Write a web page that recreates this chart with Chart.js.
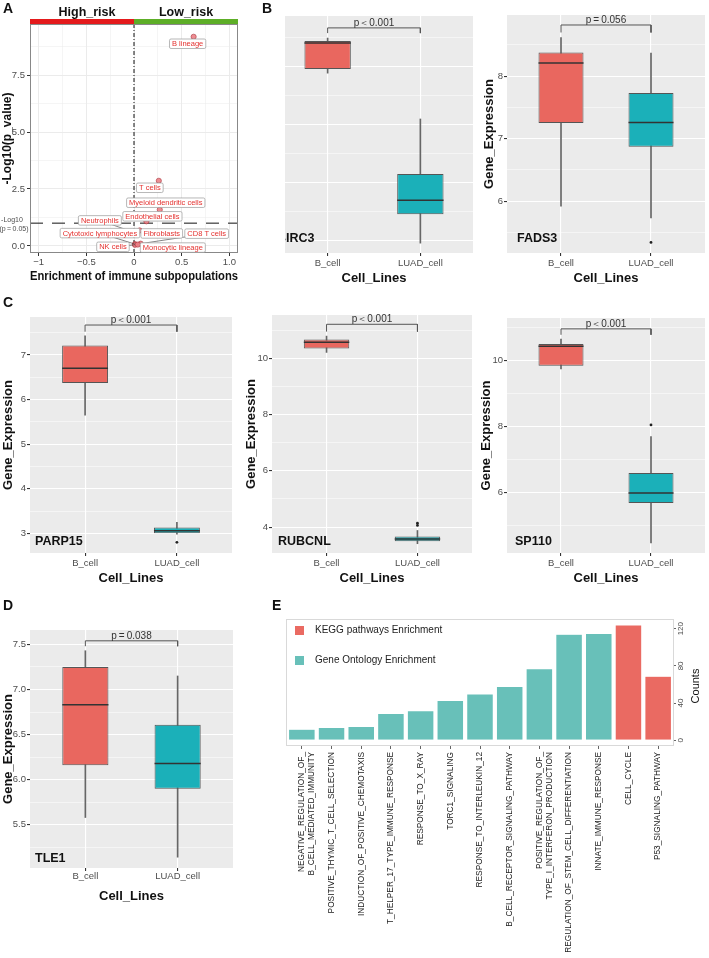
<!DOCTYPE html>
<html>
<head>
<meta charset="utf-8">
<script src="https://cdn.jsdelivr.net/npm/chart.js@4.4.0/dist/chart.umd.min.js"></script>
<style>
  body { margin: 0; background: #fff; width: 709px; height: 958px; position: relative; overflow: hidden; }
  canvas { position: absolute; }
  .tag { position: absolute; font: bold 14px "Liberation Sans", Arial, sans-serif; color: #111; line-height: 14px; z-index: 5; }
</style>
</head>
<body>
<canvas id="cBIRC3" width="236" height="290" style="left:240px;top:0px"></canvas>
<canvas id="cA" width="285" height="290" style="left:0px;top:0px"></canvas>
<canvas id="cFADS3" width="236" height="290" style="left:473px;top:0px"></canvas>
<canvas id="cPARP15" width="236" height="300" style="left:0px;top:290px"></canvas>
<canvas id="cRUBCNL" width="240" height="300" style="left:236px;top:290px"></canvas>
<canvas id="cSP110" width="236" height="300" style="left:473px;top:290px"></canvas>
<canvas id="cTLE1" width="240" height="318" style="left:0px;top:590px"></canvas>
<canvas id="cE" width="469" height="368" style="left:240px;top:590px"></canvas>
<div class="tag" style="left:3px;top:1px">A</div>
<div class="tag" style="left:262px;top:1px">B</div>
<div class="tag" style="left:3px;top:295px">C</div>
<div class="tag" style="left:3px;top:598px">D</div>
<div class="tag" style="left:272px;top:598px">E</div>
<script>
const FONT = '"Liberation Sans", Arial, sans-serif';
Chart.defaults.font.family = FONT;
Chart.defaults.color = '#4D4D4D';
Chart.defaults.animation = false;
Chart.defaults.responsive = false;
Chart.defaults.plugins.legend.display = false;
Chart.defaults.plugins.tooltip.enabled = false;

// === Panel A data ===
const cellTypes = ['B lineage', 'T cells', 'Myeloid dendritic cells', 'Endothelial cells', 'Neutrophils',
  'Cytotoxic lymphocytes', 'Fibroblasts', 'CD8 T cells', 'NK cells', 'Monocytic lineage'];
const enrichment = [0.625, 0.26, 0.27, 0.13, 0.03, 0.01, 0.06, 0.07, 0.01, 0.04];
const negLogP = [9.18, 2.86, 1.59, 1.08, 0.55, 0.08, 0.68, 0.10, 0.05, 0.06];
const pCutoff = 1.0;
const riskGroups = ['High_risk', 'Low_risk'];
const enrichTicks = [-1, -0.5, 0, 0.5, 1];
const enrichTickLabels = ['\u22121', '\u22120.5', '0', '0.5', '1.0'];
const enrichRange = [-1.09, 1.09];
const logPRange = [-0.31, 9.74];

// === Box plot data: [lower whisker, Q1, median, Q3, upper whisker] ===
const cellLines = ['B_cell', 'LUAD_cell'];
const birc3 = [[9.78, 9.92, 10.82, 10.89, 10.99], [3.92, 4.92, 5.40, 6.30, 8.20]];
const fads3 = [[5.92, 7.25, 8.21, 8.38, 8.62], [5.73, 6.87, 7.26, 7.73, 8.37]];
const parp15 = [[5.65, 6.37, 6.70, 7.21, 7.43], [2.98, 3.00, 3.06, 3.13, 3.25]];
const rubcnl = [[10.21, 10.35, 10.57, 10.67, 10.79], [3.41, 3.50, 3.58, 3.67, 3.88]];
const sp110 = [[9.75, 9.85, 10.44, 10.51, 10.66], [4.47, 5.68, 5.98, 6.59, 7.70]];
const tle1 = [[5.58, 6.16, 6.83, 7.25, 7.43], [5.14, 5.90, 6.18, 6.61, 7.15]];
const fads3Outliers = [[], [5.34]];
const parp15Outliers = [[], [2.80]];
const rubcnlOutliers = [[], [4.06, 4.14]];
const sp110Outliers = [[], [8.05]];
const pValues = { BIRC3: 'p\uFF1C0.001', FADS3: 'p\u2009=\u20090.056', PARP15: 'p\uFF1C0.001',
  RUBCNL: 'p\uFF1C0.001', SP110: 'p\uFF1C0.001', TLE1: 'p\u2009=\u20090.038' };

// === Panel E data ===
const pathwayLabels = [['NEGATIVE_REGULATION_OF_', 'B_CELL_MEDIATED_IMMUNITY'], 'POSITIVE_THYMIC_T_CELL_SELECTION',
  'INDUCTION_OF_POSITIVE_CHEMOTAXIS', 'T_HELPER_17_TYPE_IMMUNE_RESPONSE', 'RESPONSE_TO_X_RAY', 'TORC1_SIGNALING',
  'RESPONSE_TO_INTERLEUKIN_12', 'B_CELL_RECEPTOR_SIGNALING_PATHWAY', ['POSITIVE_REGULATION_OF_', 'TYPE_I_INTERFERON_PRODUCTION'],
  'REGULATION_OF_STEM_CELL_DIFFERENTIATION', 'INNATE_IMMUNE_RESPONSE', 'CELL_CYCLE', 'P53_SIGNALING_PATHWAY'];
const pathwayCounts = [12, 14, 15, 29, 32, 43, 50, 58, 77, 114, 115, 124, 69];
const pathwaySource = ['GO', 'GO', 'GO', 'GO', 'GO', 'GO', 'GO', 'GO', 'GO', 'GO', 'GO', 'KEGG', 'KEGG'];
const countTicks = [0, 40, 80, 120];

const RED = '#E9675F', TEAL = '#1BB0B9';

// === Panel A: volcano-like scatter ===
const labelShift = [[-6, 7], [-9, 7], [6, -7], [6, -5], [-37, -13], [-35, -11], [22, 3], [66, -10], [-22, 2], [35, 3]];
const near = (v, step) => Math.abs(v / step - Math.round(v / step)) < 1e-6;

const volcanoDecor = {
  id: 'volcanoDecor',
  beforeDraw(chart) {
    const { ctx } = chart;
    ctx.save();
    ctx.fillStyle = '#fff';
    ctx.fillRect(0, 0, chart.width, chart.height);
    ctx.restore();
  },
  afterDatasetsDraw(chart) {
    const { ctx, chartArea: a, scales: { x, y } } = chart;
    const x0 = x.getPixelForValue(0);
    ctx.save();
    ctx.strokeStyle = '#888';
    ctx.lineWidth = 1;
    ctx.strokeRect(a.left + 0.5, a.top + 0.5, a.right - a.left - 1, a.bottom - a.top - 1);
    ctx.fillStyle = '#E41A1C';
    ctx.fillRect(a.left, a.top - 5, x0 - a.left, 5);
    ctx.fillStyle = '#5DAE27';
    ctx.fillRect(x0, a.top - 5, a.right - x0, 5);
    ctx.fillStyle = '#111';
    ctx.font = 'bold 12.5px ' + FONT;
    ctx.textAlign = 'center';
    ctx.textBaseline = 'middle';
    ctx.fillText(riskGroups[0], (a.left + x0) / 2 + 5, a.top - 11);
    ctx.fillText(riskGroups[1], (x0 + a.right) / 2, a.top - 11);

    // cutoff tick label
    const yc = y.getPixelForValue(pCutoff);
    ctx.font = '7px ' + FONT;
    ctx.fillStyle = '#4D4D4D';
    ctx.fillText('-Log10', a.left - 18, yc - 3);
    ctx.fillText('(p\u2009=\u20090.05)', a.left - 16, yc + 5.5);

    // labels with leader lines
    ctx.font = '7.5px ' + FONT;
    const boxes = cellTypes.map((name, i) => {
      const px = x.getPixelForValue(enrichment[i]), py = y.getPixelForValue(negLogP[i]);
      const w = ctx.measureText(name).width + 5, h = 9.5;
      return { name, px, py, cx: px + labelShift[i][0], cy: py + labelShift[i][1], w, h };
    });
    ctx.strokeStyle = '#333';
    ctx.lineWidth = 0.6;
    boxes.forEach(b => {
      if (Math.abs(b.px - b.cx) > b.w / 2 + 3 || Math.abs(b.py - b.cy) > b.h / 2 + 3) {
        ctx.beginPath();
        ctx.moveTo(b.cx, b.cy);
        ctx.lineTo(b.px, b.py);
        ctx.stroke();
      }
    });
    boxes.forEach(b => {
      ctx.beginPath();
      ctx.roundRect(b.cx - b.w / 2, b.cy - b.h / 2, b.w, b.h, 1.5);
      ctx.fillStyle = '#fff';
      ctx.fill();
      ctx.strokeStyle = '#9A9A9A';
      ctx.lineWidth = 0.7;
      ctx.stroke();
      ctx.fillStyle = '#E4312F';
      ctx.fillText(b.name, b.cx, b.cy + 0.5);
    });
    ctx.restore();
  }
};

new Chart(document.getElementById('cA'), {
  type: 'scatter',
  data: {
    datasets: [
      {
        data: cellTypes.map((c, i) => ({ x: enrichment[i], y: negLogP[i] })),
        pointRadius: 2.6,
        pointBackgroundColor: 'rgba(236,128,134,0.9)',
        pointBorderColor: '#A8323A',
        pointBorderWidth: 0.6,
        order: 0
      },
      {
        type: 'line',
        data: [{ x: 0, y: logPRange[0] }, { x: 0, y: logPRange[1] }],
        borderColor: '#111', borderWidth: 1, borderDash: [4, 2, 1, 2], pointRadius: 0, order: 1
      },
      {
        type: 'line',
        data: [{ x: enrichRange[0], y: pCutoff }, { x: enrichRange[1], y: pCutoff }],
        borderColor: '#111', borderWidth: 1, borderDash: [13, 9], pointRadius: 0, order: 1
      }
    ]
  },
  options: {
    layout: { padding: { top: 24, right: 47, bottom: 2, left: 0 } },
    scales: {
      x: {
        type: 'linear', min: enrichRange[0], max: enrichRange[1],
        afterFit: s => { s.height = 35; },
        border: { display: false },
        grid: {
          color: '#EBEBEB',
          lineWidth: c => (c.tick && near(c.tick.value, 0.5)) ? 1 : 0.5,
          tickLength: 3,
          tickColor: c => (c.tick && near(c.tick.value, 0.5)) ? '#333' : 'rgba(0,0,0,0)'
        },
        ticks: {
          stepSize: 0.25, includeBounds: false, autoSkip: false, maxRotation: 0, padding: 1,
          font: { size: 9.5 }, color: '#4D4D4D',
          callback: v => {
            const k = enrichTicks.findIndex(t => Math.abs(t - v) < 1e-6);
            return k >= 0 ? enrichTickLabels[k] : '';
          }
        },
        title: { display: true, text: 'Enrichment of immune subpopulations', color: '#111',
          font: { size: 12, weight: 'bold' }, padding: { top: 0, bottom: 4 } }
      },
      y: {
        min: logPRange[0], max: logPRange[1],
        afterFit: s => { s.width = 30; },
        border: { display: false },
        grid: {
          color: '#EBEBEB',
          lineWidth: c => (c.tick && near(c.tick.value, 2.5)) ? 1 : 0.5,
          tickLength: 3,
          tickColor: c => (c.tick && near(c.tick.value, 2.5)) ? '#333' : 'rgba(0,0,0,0)'
        },
        ticks: {
          stepSize: 1.25, includeBounds: false, autoSkip: false, padding: 2,
          font: { size: 9.5 }, color: '#4D4D4D',
          callback: v => near(v, 2.5) ? v.toFixed(1) : ''
        },
        title: { display: true, text: '-Log10(p_value)', color: '#111',
          font: { size: 12, weight: 'bold' }, padding: { top: 0, bottom: 0 } }
      }
    }
  },
  plugins: [volcanoDecor]
});

// === Box plot panels ===
function boxPanel(id, gene, stats, outliers, bracket, p) {
  const isMajor = v => near(v, p.major);
  const halfBox = chart => {
    const x = chart.scales.x;
    return x.getPixelForValue(1.25) - x.getPixelForValue(1);
  };
  const outlierPts = [];
  outliers.forEach((list, i) => list.forEach(v => outlierPts.push({ x: i + 1, y: v })));

  const decor = {
    id: 'boxDecor',
    beforeDraw(chart) {
      const { ctx, chartArea: a } = chart;
      ctx.save();
      ctx.fillStyle = '#fff';
      ctx.fillRect(0, 0, chart.width, chart.height);
      ctx.fillStyle = '#EBEBEB';
      ctx.fillRect(a.left, a.top, a.right - a.left, a.bottom - a.top);
      ctx.restore();
    },
    afterDatasetsDraw(chart) {
      const { ctx, chartArea: a, scales: { x, y } } = chart;
      ctx.save();
      ctx.font = '10px ' + FONT;
      ctx.fillStyle = '#333';
      ctx.textAlign = 'center';
      ctx.textBaseline = 'alphabetic';
      ctx.fillText(pValues[gene], x.getPixelForValue(1.5), y.getPixelForValue(bracket[1]) - 2);
      ctx.font = 'bold 12.5px ' + FONT;
      ctx.fillStyle = '#111';
      ctx.textAlign = 'left';
      ctx.textBaseline = 'middle';
      ctx.fillText(gene, a.left + p.geneDx, a.bottom - p.geneDy);
      ctx.restore();
    }
  };

  new Chart(document.getElementById(id), {
    type: 'bar',
    data: {
      datasets: [
        {
          type: 'line',
          data: stats.map((s, i) => ({ x: i + 1, y: s[2] })),
          showLine: false, pointStyle: 'line',
          pointRadius: c => halfBox(c.chart),
          pointBorderColor: '#333', pointBorderWidth: 1.5, order: 0
        },
        {
          type: 'line', data: outlierPts, showLine: false,
          pointRadius: 1.4, pointBackgroundColor: '#222', pointBorderWidth: 0, order: 0
        },
        {
          type: 'line',
          data: [{ x: 1, y: bracket[0] }, { x: 1, y: bracket[1] }, { x: 2, y: bracket[1] }, { x: 2, y: bracket[0] }],
          borderColor: '#555', borderWidth: 1, pointRadius: 0, order: 0
        },
        {
          data: stats.map((s, i) => ({ x: i + 1, y: [s[1], s[3]] })),
          backgroundColor: [RED, TEAL], borderColor: '#555', borderWidth: 1, borderSkipped: false,
          grouped: false, barPercentage: 0.5, categoryPercentage: 1, order: 1
        },
        {
          data: stats.map((s, i) => ({ x: i + 1, y: [s[0], s[4]] })),
          backgroundColor: '#666', barThickness: 1, grouped: false, order: 2
        }
      ]
    },
    options: {
      layout: { padding: p.pad },
      scales: {
        x: {
          type: 'linear', min: 0.4, max: 2.6, offset: false,
          afterBuildTicks: s => { s.ticks = [{ value: 1 }, { value: 2 }]; },
          afterFit: s => { s.height = p.xH; },
          border: { display: false },
          grid: { offset: false, color: '#fff', lineWidth: 1.1, tickLength: 3, tickColor: '#333' },
          ticks: { callback: v => cellLines[v - 1], font: { size: 9.5 }, color: '#4D4D4D',
            padding: p.xTickPad, maxRotation: 0, autoSkip: false },
          title: { display: true, text: 'Cell_Lines', color: '#111',
            font: { size: 13, weight: 'bold' }, padding: { top: 0, bottom: 4 } }
        },
        y: {
          min: p.range[0], max: p.range[1],
          afterFit: s => { s.width = p.yW; },
          border: { display: false },
          grid: {
            color: '#fff',
            lineWidth: c => (c.tick && isMajor(c.tick.value)) ? 1.1 : 0.5,
            tickLength: 3,
            tickColor: c => (c.tick && isMajor(c.tick.value)) ? '#333' : 'rgba(0,0,0,0)'
          },
          ticks: {
            display: p.showY, stepSize: p.major / 2, includeBounds: false, autoSkip: false,
            font: { size: 9.5 }, color: '#4D4D4D', padding: 1,
            callback: v => isMajor(v) ? v.toFixed(p.dec) : ''
          },
          title: { display: p.showY, text: 'Gene_Expression', color: '#111',
            font: { size: 13, weight: 'bold' }, padding: { top: p.titlePad, bottom: 0 } }
        }
      }
    },
    plugins: [decor]
  });
}

boxPanel('cBIRC3', 'BIRC3', birc3, [[], []], [11.16, 11.34], {
  range: [3.58, 11.75], major: 2, dec: 0, showY: false, yW: 32, xH: 37, titlePad: 0, xTickPad: 2,
  pad: { top: 16, right: 0, bottom: 0, left: 0 }, geneDx: 5, geneDy: 14 });
boxPanel('cFADS3', 'FADS3', fads3, fads3Outliers, [8.70, 8.82], {
  range: [5.17, 8.98], major: 1, dec: 0, showY: true, yW: 34, xH: 37, titlePad: 9, xTickPad: 2,
  pad: { top: 15, right: 0, bottom: 0, left: 0 }, geneDx: 10, geneDy: 14 });
boxPanel('cPARP15', 'PARP15', parp15, parp15Outliers, [7.52, 7.67], {
  range: [2.56, 7.85], major: 1, dec: 0, showY: true, yW: 30, xH: 37, titlePad: 1, xTickPad: 2,
  pad: { top: 27, right: 4, bottom: 0, left: 0 }, geneDx: 5, geneDy: 11.5 });
boxPanel('cRUBCNL', 'RUBCNL', rubcnl, rubcnlOutliers, [10.95, 11.21], {
  range: [3.08, 11.54], major: 2, dec: 0, showY: true, yW: 36, xH: 37, titlePad: 8, xTickPad: 2,
  pad: { top: 25, right: 0, bottom: 0, left: 0 }, geneDx: 6, geneDy: 11.6 });
boxPanel('cSP110', 'SP110', sp110, sp110Outliers, [10.79, 10.97], {
  range: [4.16, 11.30], major: 2, dec: 0, showY: true, yW: 34, xH: 37, titlePad: 6, xTickPad: 2,
  pad: { top: 28, right: 4, bottom: 0, left: 0 }, geneDx: 8, geneDy: 11.6 });
boxPanel('cTLE1', 'TLE1', tle1, [[], []], [7.48, 7.54], {
  range: [5.02, 7.66], major: 0.5, dec: 1, showY: true, yW: 30, xH: 40, titlePad: 1, xTickPad: 0,
  pad: { top: 40, right: 7, bottom: 0, left: 0 }, geneDx: 5, geneDy: 9 });

// === Panel E: enrichment counts ===
const sources = [
  { key: 'KEGG', label: 'KEGG pathways Enrichment', color: '#EA6A62' },
  { key: 'GO', label: 'Gene Ontology Enrichment', color: '#68C0B9' }
];

const enrichDecor = {
  id: 'enrichDecor',
  afterDraw(chart) {
    const { ctx, chartArea: a, scales: { y } } = chart;
    ctx.save();
    ctx.strokeStyle = '#D9D9D9';
    ctx.lineWidth = 1;
    ctx.strokeRect(a.left - 0.5, a.top + 0.5, a.right - a.left + 1, a.bottom - a.top);
    // legend
    ctx.font = '10px ' + FONT;
    ctx.textBaseline = 'middle';
    ctx.textAlign = 'left';
    sources.forEach((s, i) => {
      const cy = a.top + 11.5 + i * 30;
      ctx.fillStyle = s.color;
      ctx.fillRect(a.left + 8, cy - 4.5, 9, 9);
      ctx.fillStyle = '#222';
      ctx.fillText(s.label, a.left + 28, cy);
    });
    // rotated tick labels on the right
    ctx.font = '8px ' + FONT;
    ctx.fillStyle = '#4D4D4D';
    ctx.textAlign = 'center';
    countTicks.forEach(v => {
      ctx.save();
      ctx.translate(a.right + 8, y.getPixelForValue(v));
      ctx.rotate(-Math.PI / 2);
      ctx.fillText(String(v), 0, 0);
      ctx.restore();
    });
    ctx.save();
    ctx.font = '11px ' + FONT;
    ctx.fillStyle = '#111';
    ctx.translate(a.right + 23, (a.top + a.bottom) / 2 + 4);
    ctx.rotate(-Math.PI / 2);
    ctx.fillText('Counts', 0, 0);
    ctx.restore();
    ctx.restore();
  }
};

new Chart(document.getElementById('cE'), {
  type: 'bar',
  data: {
    labels: pathwayLabels,
    datasets: sources.map(s => ({
      label: s.label,
      data: pathwayCounts.map((v, i) => pathwaySource[i] === s.key ? v : null),
      backgroundColor: s.color,
      borderColor: '#fff',
      borderWidth: 0.6,
      grouped: false,
      barPercentage: 0.9,
      categoryPercentage: 1
    }))
  },
  options: {
    layout: { padding: { top: 29, right: 0, bottom: 0, left: 47 } },
    scales: {
      x: {
        afterFit: s => { s.height = 213; },
        border: { display: false },
        grid: { offset: false, drawOnChartArea: false, tickLength: 4, tickColor: '#666' },
        ticks: { autoSkip: false, minRotation: 90, maxRotation: 90, font: { size: 8.3 }, color: '#222', padding: 3 }
      },
      y: {
        position: 'right', min: -5, max: 130.4,
        afterFit: s => { s.width = 36; },
        border: { display: false },
        grid: { drawOnChartArea: false, tickLength: 3, tickColor: '#666' },
        afterBuildTicks: s => { s.ticks = countTicks.map(v => ({ value: v })); },
        ticks: { display: false }
      }
    }
  },
  plugins: [enrichDecor]
});
</script>
</body>
</html>
